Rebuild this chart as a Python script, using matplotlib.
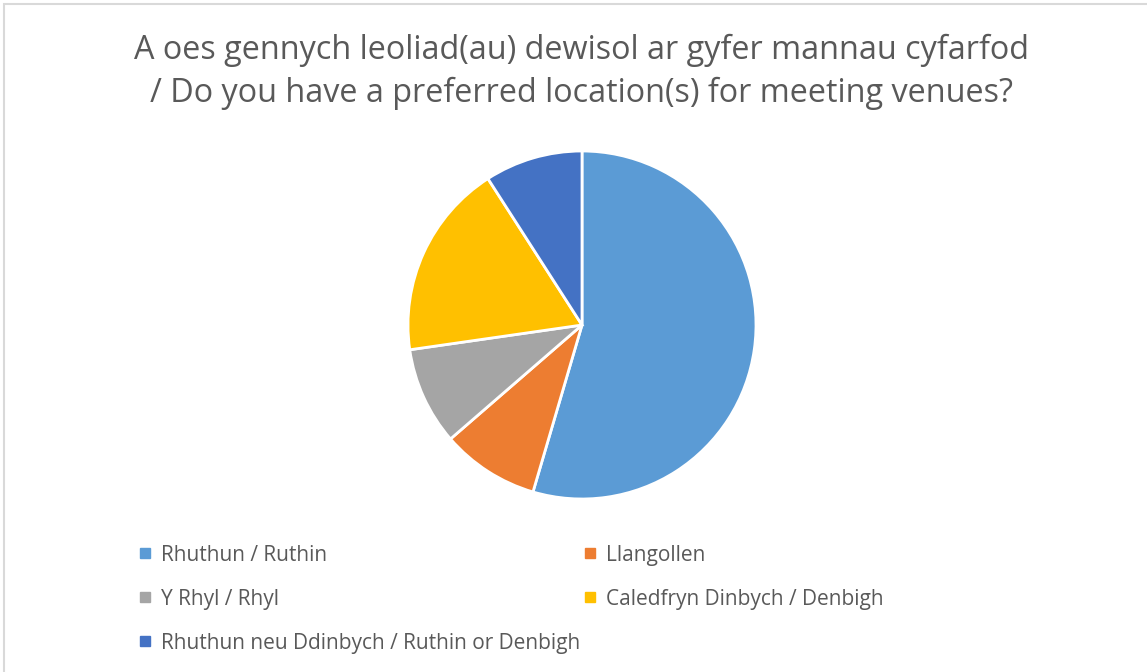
import matplotlib.pyplot as plt
from matplotlib.lines import Line2D
from matplotlib.patches import Rectangle

# data
labels = ['Rhuthun / Ruthin', 'Llangollen', 'Y Rhyl / Rhyl',
          'Caledfryn Dinbych / Denbigh', 'Rhuthun neu Ddinbych / Ruthin or Denbigh']
counts = [6, 1, 1, 2, 1]
colors = ['#5B9BD5', '#ED7D31', '#A5A5A5', '#FFC000', '#4472C4']
title = 'A oes gennych leoliad(au) dewisol ar gyfer mannau cyfarfod\n/ Do you have a preferred location(s) for meeting venues?'

plt.rcParams['font.family'] = ['Open Sans', 'DejaVu Sans']

W, H = 1147, 672
fig = plt.figure(figsize=(W / 100, H / 100), dpi=100)

# chart border
fig.patches.append(Rectangle((4 / W, -0.1), 1.2, (H - 4) / H + 0.1, transform=fig.transFigure,
                             fill=False, edgecolor='#D9D9D9', linewidth=1.5))

# pie: centre (582, 325), radius 174 px
r = 174
ax = fig.add_axes([(582 - r) / W, (H - 325 - r) / H, 2 * r / W, 2 * r / H])
ax.pie(counts, colors=colors, startangle=90, counterclock=False,
       wedgeprops=dict(edgecolor='white', linewidth=2))
ax.set_xlim(-1, 1)
ax.set_ylim(-1, 1)
ax.set_aspect('equal')

fig.text(581 / W, 1 - 72 / H, title, ha='center', va='center', fontsize=23.3,
         color='#595959', linespacing=1.4)

# legend, row-wise order
order = [0, 2, 4, 1, 3]
handles = [Line2D([], [], marker='s', linestyle='none', markersize=7,
                  markerfacecolor=colors[i], markeredgecolor=colors[i]) for i in order]
fig.legend(handles, [labels[i] for i in order], ncol=2, frameon=False,
           loc='upper left', bbox_to_anchor=(119 / W, 1 - 526 / H),
           fontsize=15, labelcolor='#595959', handlelength=0.7, handletextpad=0.4,
           columnspacing=0.15, labelspacing=1.1)

fig.savefig('out.png', dpi=100)
